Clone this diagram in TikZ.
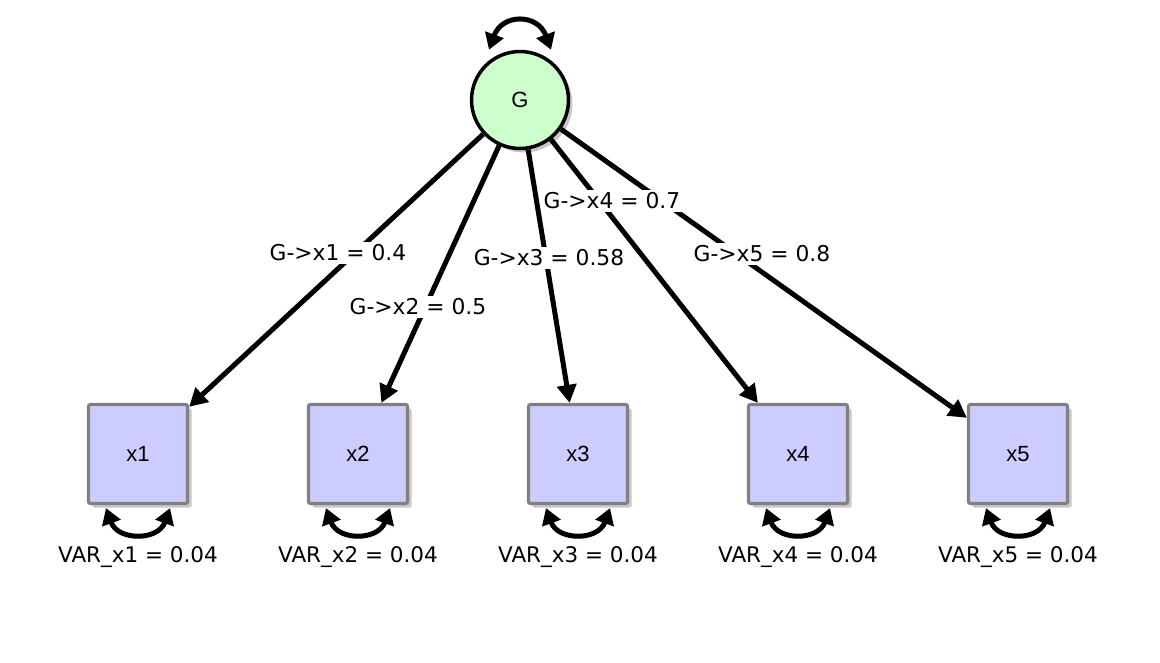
\documentclass[tikz,border=0pt]{standalone}
\usepackage{fontspec}
\setmainfont{DejaVu Sans}
\newfontfamily\nodefont{Liberation Sans}
\usetikzlibrary{arrows.meta,shadows,positioning}
\tikzset{
  latent/.style={circle,draw=black,line width=3.5pt,fill={rgb,255:red,204;green,255;blue,204},
    minimum size=97pt,inner sep=0pt,font=\nodefont\fontsize{22}{25}\selectfont,
    drop shadow={shadow xshift=4pt,shadow yshift=-4pt,fill=black!22,opacity=1}},
  manifest/.style={rectangle,rounded corners=2pt,draw={rgb,255:red,128;green,128;blue,128},line width=3.2pt,
    fill={rgb,255:red,204;green,204;blue,255},minimum size=99pt,inner sep=0pt,
    font=\nodefont\fontsize{22}{25}\selectfont,
    drop shadow={shadow xshift=4pt,shadow yshift=-4pt,fill=black!22,opacity=1}},
  path/.style={line width=5pt,-{Triangle[length=18pt,width=19pt]}},
  varr/.style={line width=5pt,{Triangle[length=16pt,width=19pt]}-{Triangle[length=16pt,width=19pt]}},
  lbl/.style={fill=white,inner sep=3pt,font=\fontsize{21.8}{25}\selectfont},
  vlbl/.style={inner sep=0pt,font=\fontsize{21.5}{25}\selectfont},
}
\begin{document}
\begin{tikzpicture}[x=1pt,y=-1pt]
\useasboundingbox (0,0) rectangle (1160,662);
\node[latent] (G) at (520,100) {G};
\foreach \i/\x in {1/138,2/358,3/578,4/798,5/1018}{
  \node[manifest] (x\i) at (\x,454) {x\i};
}
% paths
\foreach \i in {1,...,5}{
  \draw[path] (G) -- (x\i);
}
% variance of G
\draw[varr] ([xshift=-31pt,yshift=0pt]G.north) to[out=70,in=110,looseness=1.6] ([xshift=31pt]G.north);
% variances of manifest
\foreach \i in {1,...,5}{
  \draw[varr] ([xshift=-32pt,yshift=-3pt]x\i.south) to[out=-70,in=-110,looseness=1.4] ([xshift=32pt,yshift=-3pt]x\i.south);
  \node[vlbl] (v\i) at ([yshift=-103pt]x\i.center) {VAR\_x\i\ = 0.04};
}
% path labels
\node[lbl] (l1) at (338,253) {G->x1 = 0.4};
\node[lbl] (l2) at (418,307) {G->x2 = 0.5};
\node[lbl] (l3) at (549,258) {G->x3 = 0.58};
\node[lbl] (l4) at (612,201) {G->x4 = 0.7};
\node[lbl] (l5) at (762,254) {G->x5 = 0.8};
\end{tikzpicture}
\end{document}
